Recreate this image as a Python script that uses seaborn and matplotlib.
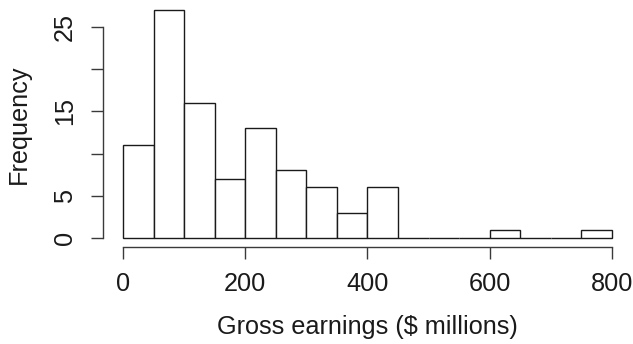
import numpy as np
import matplotlib
matplotlib.use("Agg")
import matplotlib.pyplot as plt
import seaborn as sns

# Histogram of gross earnings, $50M-wide bins
bin_edges = [0, 50, 100, 150, 200, 250, 300, 350, 400, 450, 500, 550, 600, 650, 700, 750, 800]
bin_counts = [11, 27, 16, 7, 13, 8, 6, 3, 6, 0, 0, 0, 1, 0, 0, 1]
x_ticks = [0, 200, 400, 600, 800]
y_ticks = [0, 5, 10, 15, 20, 25]
y_tick_labels = ["0", "5", "", "15", "", "25"]

sns.set_style("white")
plt.rcParams["font.family"] = ["Liberation Sans", "DejaVu Sans"]

FS = 18.2
TEXT = "#1a1a1a"
AXIS = "#3a3a3a"

mids = [(a + b) / 2 for a, b in zip(bin_edges[:-1], bin_edges[1:])]

fig = plt.figure(figsize=(6.33, 3.44), dpi=100)
ax = fig.add_axes([0.1634, 0.2817, 0.8343, 0.7155])

sns.histplot(x=mids, weights=bin_counts, bins=bin_edges, ax=ax,
             color="white", edgecolor="#1a1a1a", linewidth=1.0, alpha=1.0)

ax.set_xlim(-32, 832)
ax.set_ylim(-1.08, 28.08)

for side in ("top", "right"):
    ax.spines[side].set_visible(False)
for side in ("left", "bottom"):
    ax.spines[side].set_color(AXIS)
    ax.spines[side].set_linewidth(1.0)
ax.spines["left"].set_bounds(0, 25)
ax.spines["bottom"].set_bounds(0, 800)

ax.set_xticks(x_ticks)
ax.set_xticklabels([str(v) for v in x_ticks])
ax.set_yticks(y_ticks)
ax.set_yticklabels(y_tick_labels, rotation=90, va="center")
ax.tick_params(axis="both", direction="out", length=8.6, width=1.0,
               color=AXIS, labelsize=FS, labelcolor=TEXT,
               left=True, bottom=True)
ax.tick_params(axis="x", pad=9.3)
ax.tick_params(axis="y", pad=10.3)

ax.set_xlabel("Gross earnings ($ millions)", fontsize=FS, color=TEXT, labelpad=14)
ax.set_ylabel("Frequency", fontsize=FS, color=TEXT, labelpad=16)

fig.savefig("out.png", dpi=100)
